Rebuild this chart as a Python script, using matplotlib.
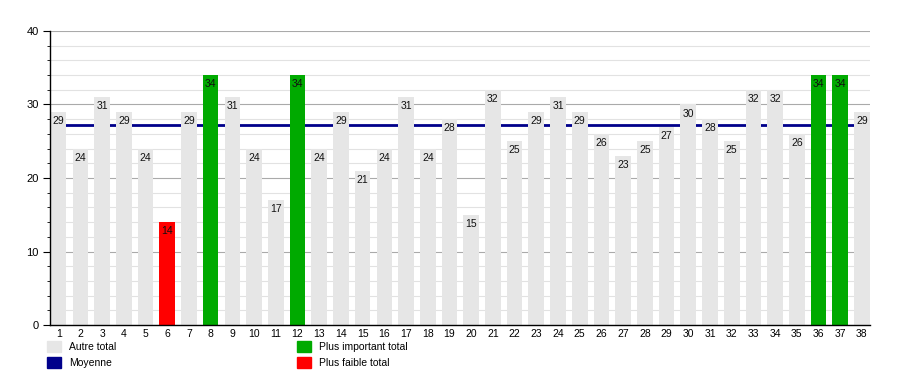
import matplotlib
matplotlib.use("Agg")
import matplotlib.pyplot as plt
from matplotlib.patches import Rectangle
import numpy as np

plt.rcParams['font.family'] = ['Liberation Sans', 'DejaVu Sans']

categories = list(range(1, 39))
values = [29, 24, 31, 29, 24, 14, 29, 34, 31, 24, 17, 34, 24, 29, 21, 24, 31, 24, 28, 15,
          32, 25, 29, 31, 29, 26, 23, 25, 27, 30, 28, 25, 32, 32, 26, 34, 34, 29]
legend_labels = ["Autre total", "Moyenne", "Plus important total", "Plus faible total"]

GRAY = "#E6E6E6"
GREEN = "#00AA00"
RED = "#FF0000"
NAVY = "#00008B"

vmax = max(values)
vmin = min(values)
mean = np.mean(values)
colors = [GREEN if v == vmax else RED if v == vmin else GRAY for v in values]

fig = plt.figure(figsize=(9, 3.75), dpi=100)
ax = fig.add_axes([50/900, 1-325/375, 820/900, 294/375])

ax.axhline(mean, color=NAVY, lw=2.0, zorder=1)
ax.bar(categories, values, width=0.72, color=colors, zorder=2)
for x, v in zip(categories, values):
    ax.text(x, v - 0.55, str(v), ha='center', va='top', fontsize=7.5, color='#111111', zorder=4)

ax.set_xlim(0.6, 38.37)
ax.set_ylim(0, 40)
ax.set_yticks([0, 10, 20, 30, 40])
ax.set_yticks(np.arange(0, 41, 2), minor=True)
ax.set_xticks(categories)
ax.set_xticklabels([str(c) for c in categories])
ax.tick_params(axis='x', length=0, labelsize=7.5, pad=3)
ax.tick_params(axis='y', which='major', length=5, labelsize=8, pad=3)
ax.tick_params(axis='y', which='minor', length=2.5)
ax.grid(axis='y', which='major', color='#AAAAAA', lw=0.8, zorder=0)
ax.grid(axis='y', which='minor', color='#E2E2E2', lw=0.8, zorder=0)
ax.set_axisbelow(True)
for s in ['top', 'right']:
    ax.spines[s].set_visible(False)
ax.spines['left'].set_linewidth(1.0)
ax.spines['bottom'].set_linewidth(1.0)

h_gray = Rectangle((0, 0), 1, 1, color=GRAY)
h_navy = Rectangle((0, 0), 1, 1, color=NAVY)
h_green = Rectangle((0, 0), 1, 1, color=GREEN)
h_red = Rectangle((0, 0), 1, 1, color=RED)

kw = dict(frameon=False, fontsize=7.5, handlelength=1.3, handleheight=1.3,
          handletextpad=0.8, labelspacing=0.45, borderpad=0, borderaxespad=0)
fig.legend([h_gray, h_navy], legend_labels[:2], loc='upper left',
           bbox_to_anchor=(47/900, 1-341/375), **kw)
fig.legend([h_green, h_red], legend_labels[2:], loc='upper left',
           bbox_to_anchor=(297/900, 1-341/375), **kw)

fig.savefig("out.png", dpi=100)
